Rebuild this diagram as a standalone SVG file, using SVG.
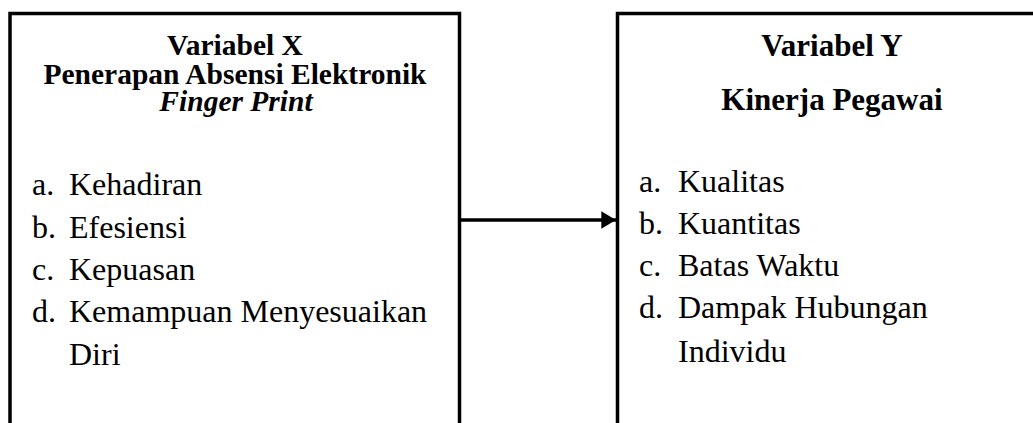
<svg xmlns="http://www.w3.org/2000/svg" width="1033" height="423" viewBox="0 0 1033 423">
  <style>
    .box { fill: #ffffff; stroke: #000000; stroke-width: 3.5; }
    .head { font-family: "Liberation Serif", "Times New Roman", serif; font-weight: bold; font-size: 31px; fill: #000000; text-anchor: middle; }
    .head-x { font-size: 29.5px; }
    .head-i { font-style: italic; }
    .item { font-family: "Liberation Serif", "Times New Roman", serif; font-size: 32px; fill: #000000; }
    .link { stroke: #000000; stroke-width: 3.5; fill: none; }
  </style>
  <defs>
    <marker id="arrowhead" markerWidth="5" markerHeight="5" refX="4.2" refY="2.5" orient="auto" markerUnits="strokeWidth">
      <path d="M0,0 L4.2,2.5 L0,5 Z" fill="#000000"/>
    </marker>
  </defs>
  <rect width="1033" height="423" fill="#ffffff"/>

  <!-- Independent variable -->
  <g id="variabel-x">
    <rect class="box" x="10" y="13.5" width="449.5" height="430"/>
    <text class="head head-x" x="235" y="55">Variabel X</text>
    <text class="head head-x" x="235" y="84">Penerapan Absensi Elektronik</text>
    <text class="head head-x head-i" x="236" y="111">Finger Print</text>
    <text class="item" x="32" y="195">a.</text>
    <text class="item" x="69" y="195">Kehadiran</text>
    <text class="item" x="32" y="238">b.</text>
    <text class="item" x="69" y="238">Efesiensi</text>
    <text class="item" x="32" y="280">c.</text>
    <text class="item" x="69" y="280">Kepuasan</text>
    <text class="item" x="32" y="322">d.</text>
    <text class="item" x="69" y="322">Kemampuan Menyesuaikan</text>
    <text class="item" x="69" y="365">Diri</text>
  </g>

  <!-- Dependent variable -->
  <g id="variabel-y">
    <rect class="box" x="617.5" y="13.5" width="440" height="430"/>
    <text class="head" x="832" y="56">Variabel Y</text>
    <text class="head" x="832" y="110">Kinerja Pegawai</text>
    <text class="item" x="639" y="192">a.</text>
    <text class="item" x="678" y="192">Kualitas</text>
    <text class="item" x="639" y="234">b.</text>
    <text class="item" x="678" y="234">Kuantitas</text>
    <text class="item" x="639" y="276">c.</text>
    <text class="item" x="678" y="276">Batas Waktu</text>
    <text class="item" x="639" y="318">d.</text>
    <text class="item" x="678" y="318">Dampak Hubungan</text>
    <text class="item" x="678" y="362">Individu</text>
  </g>

  <!-- Connectors -->
  <g id="connectors">
    <line class="link" x1="459.5" y1="220" x2="616" y2="220" marker-end="url(#arrowhead)"/>
  </g>
</svg>
